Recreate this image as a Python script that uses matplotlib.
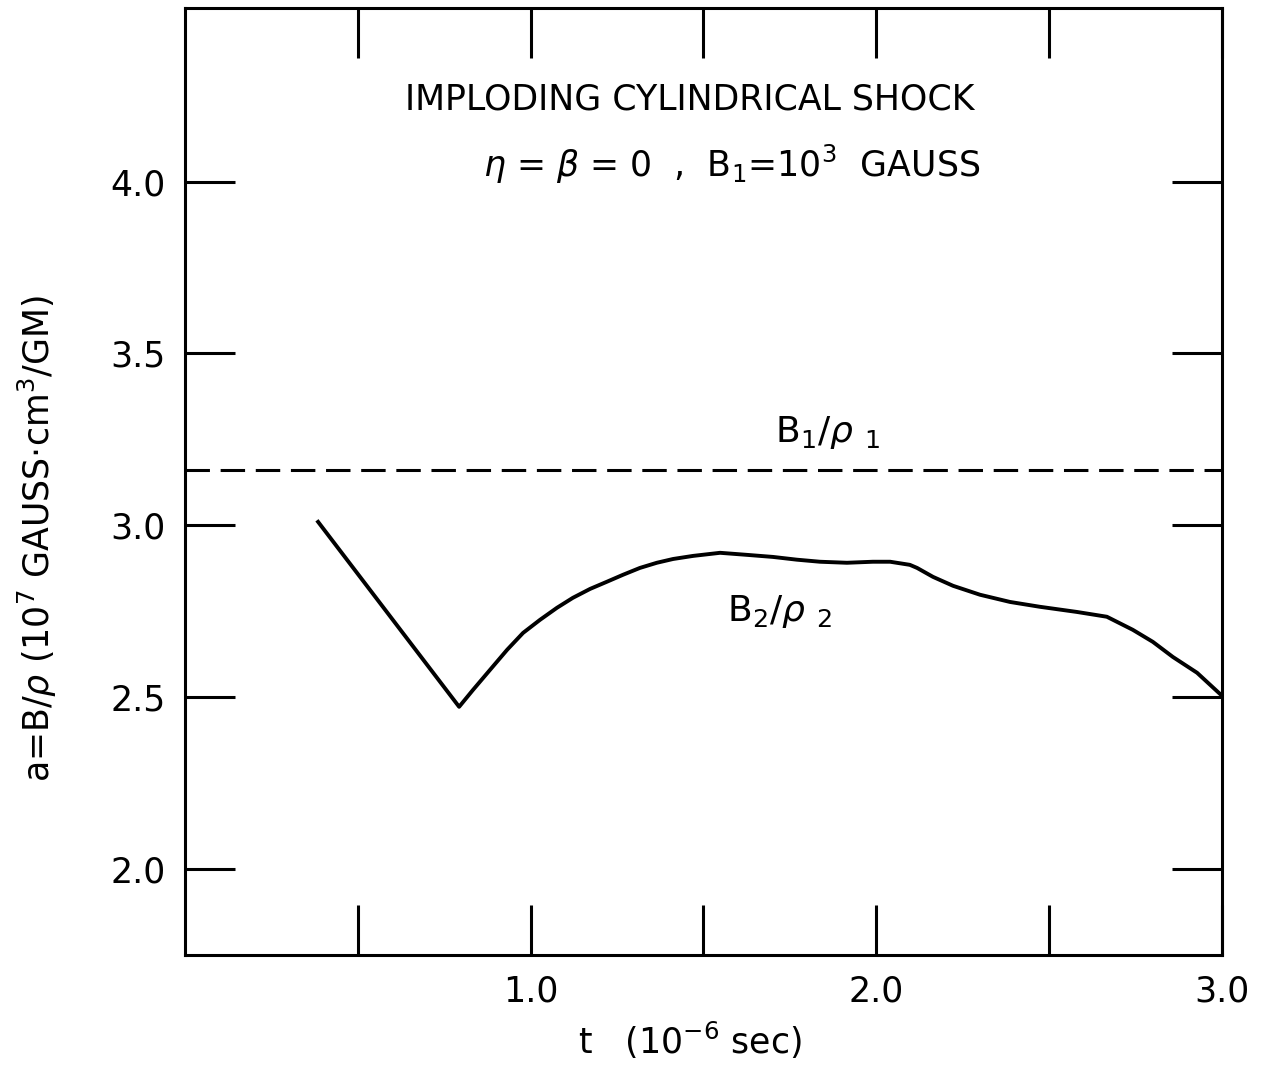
import matplotlib.pyplot as plt

plt.rcParams['font.family'] = ['Liberation Sans Narrow', 'DejaVu Sans']

# B2/rho2 curve (t in 1e-6 sec)
t_b2 = [0.385, 0.793, 0.833, 0.882, 0.932, 0.978, 1.027, 1.076, 1.122, 1.172,
        1.221, 1.267, 1.316, 1.365, 1.412, 1.470, 1.548, 1.626, 1.701, 1.770,
        1.837, 1.915, 1.990, 2.040, 2.097, 2.118, 2.164, 2.222, 2.300, 2.387,
        2.473, 2.580, 2.667, 2.742, 2.800, 2.858, 2.928, 2.997]
a_b2 = [3.010, 2.472, 2.521, 2.579, 2.638, 2.687, 2.725, 2.760, 2.789, 2.815,
        2.836, 2.856, 2.876, 2.891, 2.902, 2.911, 2.920, 2.914, 2.908, 2.900,
        2.894, 2.891, 2.894, 2.894, 2.885, 2.876, 2.850, 2.824, 2.798, 2.777,
        2.763, 2.748, 2.734, 2.696, 2.661, 2.617, 2.571, 2.507]

# B1/rho1 constant upstream value
t_b1 = [0.0, 3.0]
a_b1 = [3.162, 3.162]

xticks = [0.5, 1.0, 1.5, 2.0, 2.5, 3.0]
xlabels = ['', '1.0', '', '2.0', '', '3.0']
yticks = [2.0, 2.5, 3.0, 3.5, 4.0]
ylabels = ['2.0', '2.5', '3.0', '3.5', '4.0']

fig = plt.figure(figsize=(12.63, 10.74), dpi=100)
ax = fig.add_axes([0.1465, 0.1108, 0.821, 0.8818])

ax.plot(t_b2, a_b2, color='black', lw=2.8, solid_joinstyle='round')
ax.plot(t_b1, a_b1, color='black', lw=2.2, dashes=(8, 3.5))

ax.set_xlim(0, 3.0)
ax.set_ylim(1.75, 4.505)

ax.set_xticks(xticks)
ax.set_xticklabels(xlabels)
ax.set_yticks(yticks)
ax.set_yticklabels(ylabels)
ax.tick_params(direction='in', length=36, width=2.2, top=True, right=True,
               labelsize=25, pad=14)
for s in ax.spines.values():
    s.set_linewidth(2.2)

ax.set_xlabel(r't   (10$^{-6}$ sec)', fontsize=25)
ax.xaxis.set_label_coords(0.487, -0.068)
ax.set_ylabel(r'a=B/$\rho$ (10$^7$ GAUSS$\cdot$cm$^3$/GM)', fontsize=25)
ax.yaxis.set_label_coords(-0.122, 0.44)

ax.text(0.487, 0.903, 'IMPLODING CYLINDRICAL SHOCK', transform=ax.transAxes,
        ha='center', va='center', fontsize=25)
ax.text(0.527, 0.835, r'$\eta$ = $\beta$ = 0  ,  B$_1$=10$^3$  GAUSS', transform=ax.transAxes,
        ha='center', va='center', fontsize=25)
ax.text(1.86, 3.27, r'B$_1$/$\rho$ $_1$', ha='center', va='center', fontsize=26)
ax.text(1.72, 2.75, r'B$_2$/$\rho$ $_2$', ha='center', va='center', fontsize=26)

fig.savefig('out.png', dpi=100)
